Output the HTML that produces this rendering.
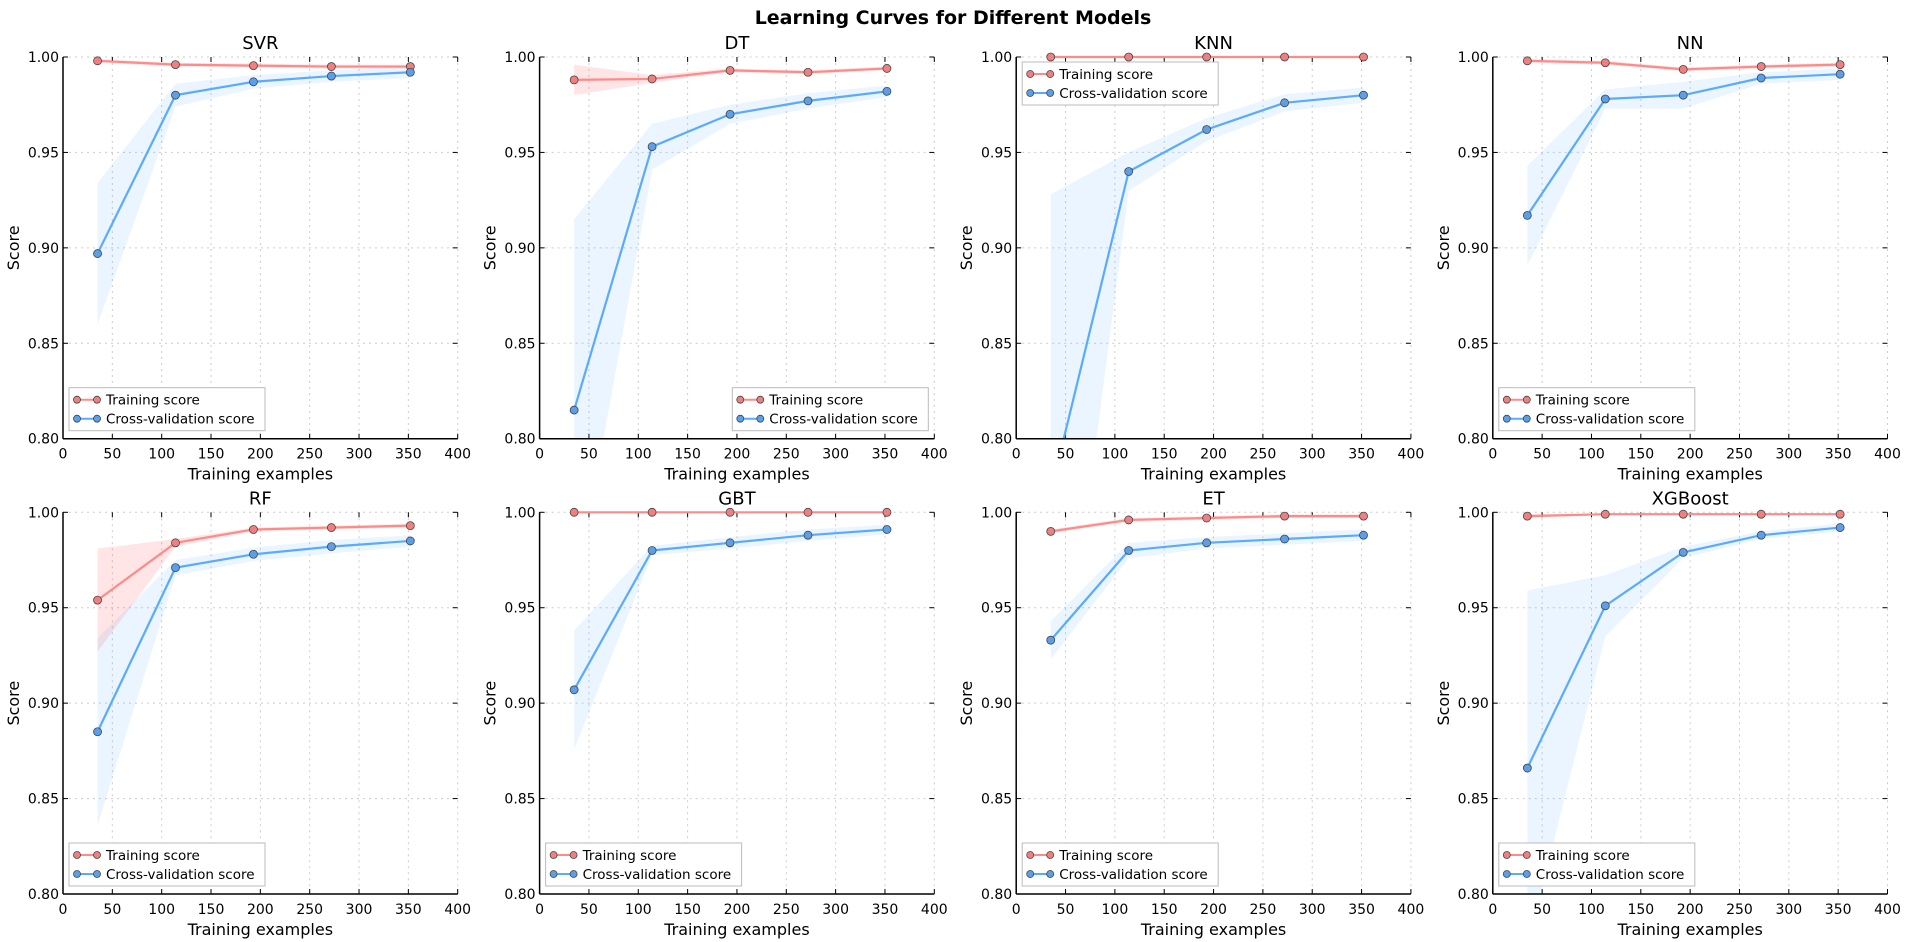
<!DOCTYPE html>
<html><head><meta charset="utf-8"><style>
html,body{margin:0;padding:0;background:#fff;}
svg{display:block;font-family:"DejaVu Sans","Liberation Sans",sans-serif;}
</style></head><body>
<svg id="fig" width="1907" height="942" viewBox="0 0 1907 942" xmlns="http://www.w3.org/2000/svg">
<text x="953" y="24" text-anchor="middle" font-size="19" font-weight="bold">Learning Curves for Different Models</text>
</svg>
<script>
const models = ["SVR","DT","KNN","NN","RF","GBT","ET","XGBoost"];
const trainSizes = [35,114,193,272,352];
const trainMean = [
 [.998,.996,.9955,.995,.995],[.988,.9885,.993,.992,.994],[1,1,1,1,1],[.998,.997,.9935,.995,.996],
 [.954,.984,.991,.992,.993],[1,1,1,1,1],[.990,.996,.997,.998,.998],[.998,.999,.999,.999,.999]];
const trainStd = [
 [.001,.001,.001,.001,.001],[.008,.002,.001,.001,.001],[0,0,0,0,0],[.001,.001,.001,.001,.001],
 [.027,.002,.001,.001,.001],[0,0,0,0,0],[.001,.001,.001,.001,.001],[.001,.0005,.0005,.0005,.0005]];
const cvMean = [
 [.897,.980,.987,.990,.992],[.815,.953,.970,.977,.982],[.772,.940,.962,.976,.980],[.917,.978,.980,.989,.991],
 [.885,.971,.978,.982,.985],[.907,.980,.984,.988,.991],[.933,.980,.984,.986,.988],[.866,.951,.979,.988,.992]];
const cvStd = [
 [.037,.006,.0035,.003,.003],[.100,.012,.005,.004,.003],[.156,.010,.006,.0045,.004],[.026,.005,.007,.003,.003],
 [.049,.004,.0035,.0035,.003],[.031,.0025,.003,.003,.0025],[.010,.004,.003,.003,.003],[.093,.016,.003,.002,.002]];
const legendPos = ["ll","lr","ul","ll","ll","ll","ll","ll"];
const xTicks = [0,50,100,150,200,250,300,350,400];
const yTicks = [0.80,0.85,0.90,0.95,1.00];

const NS="http://www.w3.org/2000/svg";
const svg=document.getElementById('fig');
function el(tag,attrs,parent){const e=document.createElementNS(NS,tag);for(const k in attrs)e.setAttribute(k,attrs[k]);(parent||svg).appendChild(e);return e;}
const W=394.7,H=381.7,colStep=476.6,lefts=[63,63+colStep,63+2*colStep,63+3*colStep],tops=[57,512.3];
const TC="#ff8a8a",CC="#5aaaff";

models.forEach((m,i)=>{
 const L=lefts[i%4],T=tops[Math.floor(i/4)];
 const g=el('g',{});
 
 
 const xs=v=>L+v/400*W, ys=v=>T+(1-v)/0.2*H;
 const clipId='c'+i;
 const cp=el('clipPath',{id:clipId},g);el('rect',{x:L,y:T-6,width:W,height:H+6},cp);
 // grid
 xTicks.forEach(t=>{const x=xs(t);el('line',{x1:x,y1:T,x2:x,y2:T+H,stroke:"#ccc","stroke-dasharray":"2,4","stroke-width":1},g);});
 yTicks.forEach(t=>{const y=ys(t);el('line',{x1:L,y1:y,x2:L+W,y2:y,stroke:"#ccc","stroke-dasharray":"2,4","stroke-width":1},g);});
 // ticks
 xTicks.forEach(t=>{const x=xs(t);el('line',{x1:x,y1:T+H,x2:x,y2:T+H-5,stroke:"#000"},g);el('line',{x1:x,y1:T,x2:x,y2:T+5,stroke:"#000"},g);
  const tx=el('text',{x:x,y:T+H+20,"text-anchor":"middle","font-size":14},g);tx.textContent=t;
  });
 yTicks.forEach(t=>{const y=ys(t);el('line',{x1:L,y1:y,x2:L+5,y2:y,stroke:"#000"},g);el('line',{x1:L+W,y1:y,x2:L+W-5,y2:y,stroke:"#000"},g);
  const tx=el('text',{x:L-4,y:y+5,"text-anchor":"end","font-size":14},g);tx.textContent=t.toFixed(2);
  });
 const pc=el('g',{"clip-path":"url(#"+clipId+")"},g);
 function band(mean,std,color,name){
  const up=trainSizes.map((s,k)=>xs(s)+","+ys(mean[k]+std[k]));
  const dn=trainSizes.map((s,k)=>xs(s)+","+ys(mean[k]-std[k])).reverse();
  const p=el('polygon',{points:up.concat(dn).join(" "),fill:color,"fill-opacity":0.1},pc);
  
 }
 function line(mean,color,mk,name){
  const pts=trainSizes.map((s,k)=>xs(s)+","+ys(mean[k])).join(" ");
  const p=el('polyline',{points:pts,fill:"none",stroke:color,"stroke-width":2.2},pc);
  
  trainSizes.forEach((s,k)=>{const c=el('circle',{cx:xs(s),cy:ys(mean[k]),r:4,fill:mk,stroke:"#444","stroke-width":0.8},pc);
   });
 }
 band(trainMean[i],trainStd[i],"#ff0000","train-band");
 band(cvMean[i],cvStd[i],"#3399ff","cv-band");
 line(trainMean[i],TC,"#f08080","train");
 line(cvMean[i],CC,"#5b9fe8","cv");
 // spines
 el('line',{x1:L,y1:T,x2:L,y2:T+H,stroke:"#000","stroke-width":1.5},g);
 el('line',{x1:L,y1:T+H,x2:L+W,y2:T+H,stroke:"#000","stroke-width":1.5},g);
 const tt=el('text',{x:L+W/2,y:T-8,"text-anchor":"middle","font-size":18},g);tt.textContent=m;
 
 const xl=el('text',{x:L+W/2,y:T+H+41,"text-anchor":"middle","font-size":16},g);xl.textContent="Training examples";
 
 const yl=el('text',{x:0,y:0,"text-anchor":"middle","font-size":16,transform:`translate(${L-44},${T+H/2}) rotate(-90)`},g);yl.textContent="Score";
 
 // legend
 const lw=196,lh=43,pos=legendPos[i];
 const lx=pos==="lr"?L+W-6-lw:L+6, ly=pos==="ul"?T+5:T+H-8-lh;
 const lg=el('g',{},g);
 
 el('rect',{x:lx,y:ly,width:lw,height:lh,fill:"#fff",stroke:"#bbb","stroke-width":1},lg);
 [["Training score",TC,"#f08080"],["Cross-validation score",CC,"#5b9fe8"]].forEach((e,k)=>{
  const yy=ly+12+k*19;
  const eg=el('g',{},lg);
  
  el('line',{x1:lx+8,y1:yy,x2:lx+28,y2:yy,stroke:e[1],"stroke-width":2},eg);
  el('circle',{cx:lx+8,cy:yy,r:3.5,fill:e[2],stroke:"#444","stroke-width":0.8},eg);
  el('circle',{cx:lx+28,cy:yy,r:3.5,fill:e[2],stroke:"#444","stroke-width":0.8},eg);
  const t=el('text',{x:lx+37,y:yy+5,"font-size":13.5},eg);t.textContent=e[0];
 });
});
</script>
</body></html>
